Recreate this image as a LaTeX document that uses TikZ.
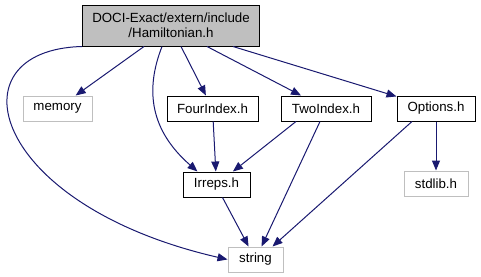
\documentclass[tikz,border=0pt]{standalone}
\usepackage{fontspec}
\setmainfont{Liberation Sans}
\usetikzlibrary{positioning,arrows.meta}
\usepackage{xcolor}
\definecolor{edgeblue}{HTML}{191970}
\definecolor{sysgray}{HTML}{BFBFBF}

\begin{document}
\begin{tikzpicture}[
        x=1pt, y=-1pt,
        every node/.style={font=\fontsize{13.3}{15}\selectfont},
        header/.style={draw, line width=1pt, minimum height=25pt, inner xsep=10pt, inner ysep=0pt},
        local/.style={header, draw=black},
        system/.style={header, draw=sysgray},
        current/.style={local, fill=sysgray, align=center, minimum height=41pt},
        arrow/.style={-{Triangle[length=10pt, width=8pt]}, line width=1pt, edgeblue}
    ]
        \useasboundingbox (0,0) rectangle (481,276);

        % Top: the file itself
        \node[current] (ham) at (171,25.5) {DOCI-Exact/extern/include\\/Hamiltonian.h};

        % Row 1: direct includes
        \node[system, below=49pt of ham.south, xshift=-113.5pt, minimum width=69pt] (memory) {memory};
        \node[local, below=49pt of ham.south, xshift=41.5pt, minimum width=91pt] (four) {FourIndex.h};
        \node[local, below=49pt of ham.south, xshift=155pt, minimum width=90pt] (two) {TwoIndex.h};
        \node[local, below=49pt of ham.south, xshift=265pt, minimum width=78pt] (opts) {Options.h};

        % Row 2
        \node[local, below=50pt of four.south, xshift=4pt, minimum width=67pt] (irreps) {Irreps.h};
        \node[system, below=49pt of opts.south, minimum width=64pt] (stdlib) {stdlib.h};

        % Row 3
        \node[system, below=49pt of irreps.south, xshift=39pt, minimum width=55pt] (string) {string};

        % Edges from the top file
        \draw[arrow] ([xshift=-27pt]ham.south) -- (memory);
        \draw[arrow] ([xshift=10pt]ham.south) -- (four);
        \draw[arrow] ([xshift=36pt]ham.south) -- (two);
        \draw[arrow] ([xshift=62pt]ham.south) -- (opts);
        \draw[arrow] ([xshift=-9pt]ham.south) .. controls (145,90) and (150,130) .. ([xshift=-19pt]irreps.north);
        \draw[arrow] ([xshift=-89pt]ham.south) .. controls (-50,50) and (-10,205) .. (string.west);

        % Edges between the includes
        \draw[arrow] (four) -- (irreps);
        \draw[arrow] ([xshift=-30pt]two.south) -- (irreps);
        \draw[arrow] ([xshift=-6pt]two.south) -- (string);
        \draw[arrow] ([xshift=-24pt]opts.south) -- ([xshift=17pt]string.north);
        \draw[arrow] (opts) -- (stdlib);
        \draw[arrow] ([xshift=6pt]irreps.south) -- (string);
    \end{tikzpicture}
\end{document}
